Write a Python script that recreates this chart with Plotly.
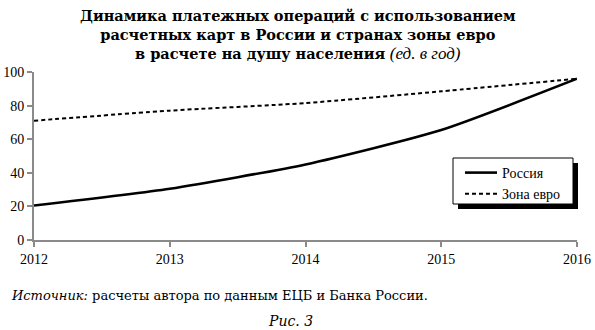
import plotly.graph_objects as go

years = [2012, 2013, 2014, 2015, 2016]
russia = [20.5, 30.5, 45, 65.5, 96]
eurozone = [71, 77, 81.5, 88.5, 96]
y_ticks = [0, 20, 40, 60, 80, 100]

SERIF = "Liberation Serif, DejaVu Serif, serif"
WIDE_SERIF = "DejaVu Serif, serif"

W, H = 595, 330
L, R, T, B = 34, 18, 72, 90
PW, PH = W - L - R, H - T - B


def px_x(x):
    return (x - L) / PW


def px_y(y):
    return (H - B - y) / PH


fig = go.Figure()
fig.add_trace(go.Scatter(
    x=years, y=russia, name="Россия", mode="lines",
    line=dict(color="black", width=2.6, shape="spline", smoothing=0.6),
))
fig.add_trace(go.Scatter(
    x=years, y=eurozone, name="Зона евро", mode="lines",
    line=dict(color="black", width=2, dash="4px,3px", shape="spline", smoothing=0.6),
))

axis_style = dict(
    showgrid=False, zeroline=False, automargin=False,
    showline=True, linecolor="#8a8a8a", linewidth=2,
    ticks="outside", ticklen=5, tickcolor="#8a8a8a", tickwidth=1.5,
    tickfont=dict(family=SERIF, size=14, color="black"),
)

fig.update_layout(
    width=W, height=H,
    margin=dict(l=L, r=R, t=T, b=B),
    paper_bgcolor="white", plot_bgcolor="white",
    font=dict(family=SERIF, color="black", size=14),
    showlegend=True,
    legend=dict(
        x=px_x(460), y=px_y(157), xanchor="left", yanchor="top",
        bgcolor="rgba(0,0,0,0)", borderwidth=0,
        font=dict(family=SERIF, size=14, color="black"),
        tracegroupgap=0, itemwidth=32,
    ),
    xaxis=dict(range=[2012, 2016], tickvals=years,
               ticktext=[str(y) for y in years], **axis_style),
    yaxis=dict(range=[0, 100], tickvals=y_ticks, **axis_style),
)

# legend frame with a drop shadow
fig.add_shape(type="rect", xref="paper", yref="paper",
              x0=px_x(458), x1=px_x(578), y0=px_y(209), y1=px_y(163),
              fillcolor="black", line=dict(width=0), layer="above")
fig.add_shape(type="rect", xref="paper", yref="paper",
              x0=px_x(453), x1=px_x(573), y0=px_y(204), y1=px_y(158),
              fillcolor="white", line=dict(color="black", width=1), layer="above")

title = ("<b>Динамика платежных операций с использованием</b><br>"
         "<b>расчетных карт в России и странах зоны евро</b><br>"
         "<b>в расчете на душу населения</b> "
         "<i><span style='font-family:Liberation Serif;font-size:17px'>(ед. в год)</span></i>")

fig.add_annotation(text=title, xref="paper", yref="paper",
                   x=px_x(297.5), y=px_y(35), xanchor="center", yanchor="middle",
                   showarrow=False,
                   font=dict(family=WIDE_SERIF, size=14.5, color="black"))

fig.add_annotation(
    text="<i>Источник:</i> расчеты автора по данным ЕЦБ и Банка России.",
    xref="paper", yref="paper", x=px_x(9), y=px_y(295),
    xanchor="left", yanchor="middle", showarrow=False,
    font=dict(family=WIDE_SERIF, size=13, color="black"),
)
fig.add_annotation(
    text="<i>Рис. 3</i>", xref="paper", yref="paper",
    x=px_x(290), y=px_y(321), xanchor="center", yanchor="middle", showarrow=False,
    font=dict(family=WIDE_SERIF, size=14, color="black"),
)

fig.write_html("out.html")
